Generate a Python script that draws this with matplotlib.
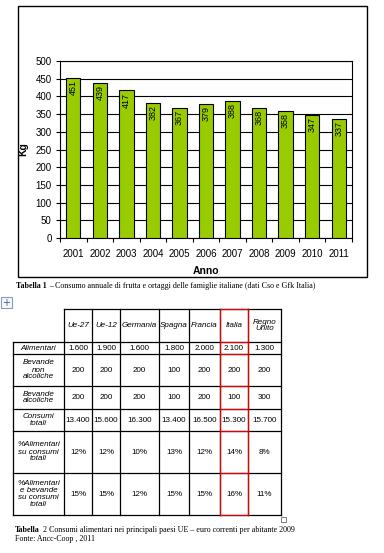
import matplotlib
matplotlib.use("Agg")
import matplotlib.pyplot as plt
from matplotlib.patches import Rectangle

# chart data
anni = ['2001', '2002', '2003', '2004', '2005', '2006', '2007', '2008', '2009', '2010', '2011']
kg = [451, 439, 417, 382, 367, 379, 388, 368, 358, 347, 337]

# table data
paesi = ['Ue-27', 'Ue-12', 'Germania', 'Spagna', 'Francia', 'Italia', 'Regno\nUnito']
voci = ['Alimentari', 'Bevande\nnon\nalcoliche', 'Bevande\nalcoliche', 'Consumi\ntotali',
        '%Alimentari\nsu consumi\ntotali', '%Alimentari\ne bevande\nsu consumi\ntotali']
valori = [
    ['1.600', '1.900', '1.600', '1.800', '2.000', '2.100', '1.300'],
    ['200', '200', '200', '100', '200', '200', '200'],
    ['200', '200', '200', '100', '200', '100', '300'],
    ['13.400', '15.600', '16.300', '13.400', '16.500', '15.300', '15.700'],
    ['12%', '12%', '10%', '13%', '12%', '14%', '8%'],
    ['15%', '15%', '12%', '15%', '15%', '16%', '11%'],
]

W, H = 384, 553
fig = plt.figure(figsize=(W / 100, H / 100), dpi=100)
fig.patch.set_facecolor('white')

def fx(px):
    return px / W

def fy(py):
    return 1 - py / H

sans = 'Liberation Sans'
serif = 'Liberation Serif'

# ---- bar chart ----
ax = fig.add_axes([fx(60), fy(238), fx(352) - fx(60), fy(61) - fy(238)])
x = list(range(len(anni)))
ax.bar(x, kg, width=0.54, color='#99cc00', edgecolor='black', linewidth=0.8, zorder=3)
for xi, v in zip(x, kg):
    ax.text(xi, v - 6, str(v), rotation=90, ha='center', va='top',
            fontsize=6.5, family=sans, zorder=4)
ax.set_xlim(-0.5, len(anni) - 0.5)
ax.set_ylim(0, 500)
ax.set_yticks(range(0, 501, 50))
ax.yaxis.grid(True, color='black', linewidth=0.8, zorder=0)
ax.set_xticks(x)
ax.set_xticklabels(anni)
ax.set_xticks([i - 0.5 for i in range(len(anni) + 1)], minor=True)
ax.tick_params(axis='x', which='major', length=0, pad=8)
ax.tick_params(axis='x', which='minor', length=3, width=0.8)
ax.tick_params(axis='y', length=3, width=0.8, pad=3)
for lab in ax.get_xticklabels() + ax.get_yticklabels():
    lab.set_family(sans)
    lab.set_fontsize(7)
for s in ax.spines.values():
    s.set_linewidth(0.8)
ax.set_xlabel('Anno', family=sans, fontsize=7.5, fontweight='bold', labelpad=5)
ax.set_ylabel('Kg', family=sans, fontsize=7.5, fontweight='bold', labelpad=5)

# ---- overlay for frame, captions and table (pixel coordinates) ----
ov = fig.add_axes([0, 0, 1, 1], zorder=-1)
ov.set_xlim(0, W)
ov.set_ylim(H, 0)
ov.axis('off')
top = fig.add_axes([0, 0, 1, 1])
top.set_xlim(0, W)
top.set_ylim(H, 0)
top.axis('off')
top.patch.set_alpha(0)

ov.add_patch(Rectangle((18, 6), 349, 271, fill=False, edgecolor='black', linewidth=1))

cap = 5.8

def caption(xp, yp, bold, rest):
    t = top.text(xp, yp, bold, family=serif, fontsize=cap, fontweight='bold', va='bottom')
    top.annotate(rest, xy=(1, 0), xycoords=t, xytext=(2, 0), textcoords='offset points',
                 family=serif, fontsize=cap, va='bottom')

caption(16, 290, 'Tabella 1',
        '\u2013 Consumo annuale di frutta e ortaggi delle famiglie italiane (dati Cso e Gfk Italia)')

# move icon
top.add_patch(Rectangle((1, 297), 11, 11, facecolor='#f4f6fa', edgecolor='#8a9cba', linewidth=0.8))
top.text(6.5, 302.5, '+', ha='center', va='center', fontsize=7, color='#3a5a9a')

col_x = [13, 64, 92, 120, 159, 189, 220, 248, 281]
row_y = [309, 342, 354, 386, 409, 431, 473, 515]
red_col = 5

# header row
for j, p in enumerate(paesi):
    x0, x1 = col_x[j + 1], col_x[j + 2]
    top.text((x0 + x1) / 2, (row_y[0] + row_y[1]) / 2, p, ha='center', va='center',
             family=sans, fontsize=5.8, style='italic', linespacing=1.0)
# body rows
for i, v in enumerate(voci):
    y0, y1 = row_y[i + 1], row_y[i + 2]
    top.text((col_x[0] + col_x[1]) / 2, (y0 + y1) / 2, v, ha='center', va='center',
             family=sans, fontsize=5.8, style='italic', linespacing=1.0)
    for j, val in enumerate(valori[i]):
        x0, x1 = col_x[j + 1], col_x[j + 2]
        top.text((x0 + x1) / 2, (y0 + y1) / 2, val, ha='center', va='center',
                 family=sans, fontsize=5.8)

lw = 0.9
# horizontal lines
for k, y in enumerate(row_y):
    xs = col_x[1] if k == 0 else col_x[0]
    top.plot([xs, col_x[-1]], [y, y], color='black', linewidth=lw)
# vertical lines
for k, xv in enumerate(col_x):
    ys = row_y[1] if k == 0 else row_y[0]
    top.plot([xv, xv], [ys, row_y[-1]], color='black', linewidth=lw)
# Italia column in red
rx0, rx1 = col_x[red_col + 1], col_x[red_col + 2]
for y in row_y:
    top.plot([rx0, rx1], [y, y], color='#e00000', linewidth=lw)
for xv in (rx0, rx1):
    top.plot([xv, xv], [row_y[0], row_y[-1]], color='#e00000', linewidth=lw)

top.add_patch(Rectangle((281, 517), 5, 5, fill=False, edgecolor='#666666', linewidth=0.6))

caption(15, 534, 'Tabella',
        '2 Consumi alimentari nei principali paesi UE \u2013 euro correnti per abitante 2009')
top.text(15, 543, 'Fonte: Ancc-Coop , 2011', family=serif, fontsize=cap, va='bottom')

fig.savefig('out.png', dpi=100)
